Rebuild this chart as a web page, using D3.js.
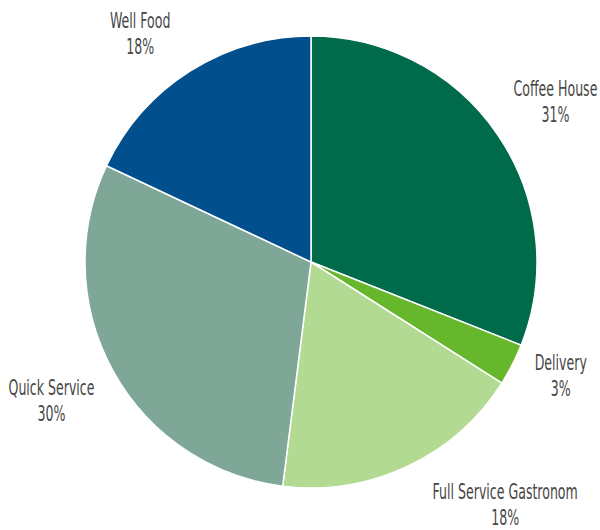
<!DOCTYPE html>
<html>
<head>
<meta charset="utf-8">
<script src="https://cdn.jsdelivr.net/npm/d3@7"></script>
<style>
  html, body { margin: 0; padding: 0; background: #ffffff; }
  svg { display: block; }
  .label text {
    font-family: "DejaVu Sans Condensed", "Liberation Sans Narrow", "Arial Narrow", sans-serif;
    font-size: 21px;
    fill: #474747;
  }
</style>
</head>
<body>
<svg id="chart" width="600" height="530"></svg>
<script>
// Market share by restaurant segment
const categories = ["Coffee House", "Delivery", "Full Service Gastronom", "Quick Service", "Well Food"];
const shares = [31, 3, 18, 30, 18];
const shareLabels = ["31%", "3%", "18%", "30%", "18%"];
const sliceColors = ["#006b4b", "#66b72c", "#b2da92", "#7ea798", "#024f8e"];

// Label placement tweaks relative to the slice's outer centroid (dx, dy in px)
const labelNudge = [[7, -5], [-6, -22], [72, -23], [-8, -5], [-17, 8]];

const width = 600, height = 530;
const cx = 311, cy = 262, radius = 226;
const labelTextWidth = 84; // rendered width of the widest short label, sets the condensing factor

const svg = d3.select("#chart");
const g = svg.append("g").attr("transform", `translate(${cx},${cy})`);

const pie = d3.pie().sort(null).value(d => d.value).startAngle(0).endAngle(2 * Math.PI);
const rows = categories.map((c, i) => ({ name: c, value: shares[i], label: shareLabels[i], color: sliceColors[i], nudge: labelNudge[i] }));
const arcs = pie(rows);

const arc = d3.arc().innerRadius(0).outerRadius(radius);
const labelArc = d3.arc().innerRadius(radius * 1.27).outerRadius(radius * 1.27);

g.selectAll("path.slice")
  .data(arcs)
  .join("path")
  .attr("class", "slice")
  .attr("d", arc)
  .attr("fill", d => d.data.color)
  .attr("stroke", "#ffffff")
  .attr("stroke-width", 1.5)
  .attr("stroke-linejoin", "round");

// Condensed look: horizontally squeeze the label font to a narrow face
const probe = svg.append("g").attr("class", "label").append("text").text(categories[0]);
const squeeze = Math.min(1, labelTextWidth / probe.node().getComputedTextLength());
probe.node().parentNode.remove();

const labels = g.selectAll("g.label")
  .data(arcs)
  .join("g")
  .attr("class", "label")
  .attr("transform", d => {
    const [x, y] = labelArc.centroid(d);
    return `translate(${x + d.data.nudge[0]},${y + d.data.nudge[1]}) scale(${squeeze},1)`;
  });

labels.append("text")
  .attr("text-anchor", "middle")
  .attr("y", 0)
  .text(d => d.data.name);

labels.append("text")
  .attr("text-anchor", "middle")
  .attr("y", 26)
  .text(d => d.data.label);
</script>
</body>
</html>
